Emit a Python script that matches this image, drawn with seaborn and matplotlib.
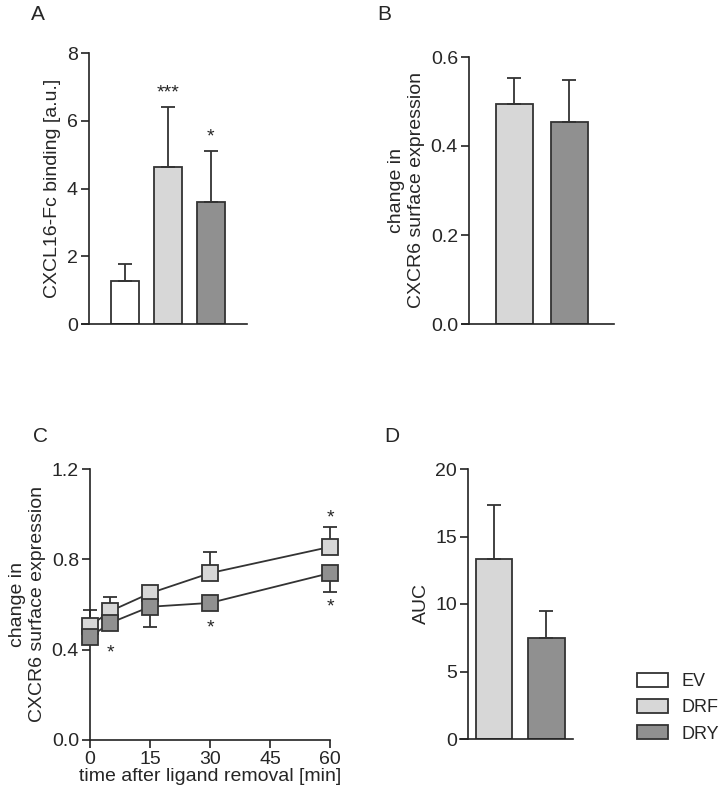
import numpy as np
import pandas as pd
import seaborn as sns
import matplotlib.pyplot as plt
from matplotlib.patches import Patch

sns.set_style('ticks')
plt.rcParams['font.family'] = ['Liberation Sans', 'DejaVu Sans']
plt.rcParams['font.size'] = 13

# data
groups = ['EV', 'DRF', 'DRY']
colors = {'EV': '#ffffff', 'DRF': '#d7d7d7', 'DRY': '#909090'}
edge = '#333333'

binding_mean = [1.28, 4.63, 3.6]
binding_err = [0.5, 1.78, 1.51]
binding_stars = ['', '***', '*']

surface_groups = ['DRF', 'DRY']
surface_mean = [0.494, 0.453]
surface_err = [0.059, 0.095]

time_min = [0, 5, 15, 30, 60]
drf_time = [0.505, 0.57, 0.65, 0.739, 0.855]
drf_time_err = [0.071, 0.063, 0.02, 0.093, 0.088]
dry_time = [0.456, 0.518, 0.59, 0.607, 0.739]
dry_time_err = [0.02, 0.02, 0.09, 0.02, 0.084]
dry_time_stars = [(5, 0.385), (30, 0.495), (60, 0.59)]
drf_time_stars = [(60, 0.985)]

auc_mean = [13.3, 7.5]
auc_err = [4.0, 1.95]

fig = plt.figure(figsize=(7.24, 7.92), dpi=100)
W, H = 724, 792


def add_ax(x0, y_top, x1, y_bot):
    return fig.add_axes([x0 / W, 1 - y_bot / H, (x1 - x0) / W, (y_bot - y_top) / H])


def style_ax(ax, spine_x=None):
    sns.despine(ax=ax)
    for s in ['left', 'bottom']:
        ax.spines[s].set_linewidth(1.2)
        ax.spines[s].set_color('#222222')
    if spine_x is not None:
        ax.spines['left'].set_position(('axes', spine_x))
    ax.tick_params(length=6, width=1.2, color='#222222', labelsize=14, pad=2)
    ax.set_xticks([])


def bar_panel(ax, cats, means, errs, width):
    df = pd.DataFrame({'group': cats, 'value': means})
    sns.barplot(data=df, x='group', y='value', hue='group', order=cats,
                palette=[colors[c] for c in cats], edgecolor=edge, linewidth=1.3,
                width=width, errorbar=None, legend=False, ax=ax)
    ax.errorbar(range(len(cats)), means, yerr=[np.zeros(len(cats)), errs],
                fmt='none', ecolor=edge, elinewidth=1.3, capsize=5, capthick=1.3)
    ax.set_xlabel('')


# Panel A
axA = add_ax(82, 53, 247, 324)
bar_panel(axA, groups, binding_mean, binding_err, 0.65)
axA.set_xlim(-0.997, 2.84)
axA.set_ylim(0, 8)
axA.set_yticks([0, 2, 4, 6, 8])
axA.set_ylabel('CXCL16-Fc binding [a.u.]', fontsize=14, labelpad=4)
for i, s in enumerate(binding_stars):
    if s:
        axA.text(i, binding_mean[i] + binding_err[i] + 0.15, s, ha='center', va='bottom', fontsize=14)
style_ax(axA, 7 / 165)

# Panel B
axB = add_ax(462, 57, 614, 324)
bar_panel(axB, surface_groups, surface_mean, surface_err, 0.67)
axB.set_xlim(-0.955, 1.81)
axB.set_ylim(0, 0.6)
axB.set_yticks([0, 0.2, 0.4, 0.6])
axB.set_yticklabels(['0.0', '0.2', '0.4', '0.6'])
axB.set_ylabel('change in\nCXCR6 surface expression', fontsize=14, labelpad=4)
style_ax(axB, 7 / 152)

# Panel C
axC = add_ax(90, 469, 330, 740)
df_time = pd.DataFrame({
    'time': time_min * 2,
    'value': drf_time + dry_time,
    'group': ['DRF'] * len(time_min) + ['DRY'] * len(time_min),
})
axC.errorbar(time_min, drf_time, yerr=[np.zeros(5), drf_time_err], fmt='none',
             ecolor=edge, elinewidth=1.3, capsize=5, capthick=1.3, clip_on=False)
axC.errorbar(time_min, dry_time, yerr=[dry_time_err, np.zeros(5)], fmt='none',
             ecolor=edge, elinewidth=1.3, capsize=5, capthick=1.3, clip_on=False)
sns.lineplot(data=df_time, x='time', y='value', hue='group', hue_order=['DRF', 'DRY'],
             palette=[edge, edge], marker='s', markersize=12, linewidth=1.3,
             legend=False, ax=axC, clip_on=False, zorder=3)
for line, g in zip(axC.lines[-2:], ['DRF', 'DRY']):
    line.set_markerfacecolor(colors[g])
    line.set_markeredgecolor(edge)
    line.set_markeredgewidth(1.3)
    line.set_clip_on(False)
for x, y in dry_time_stars + drf_time_stars:
    axC.text(x, y, '*', ha='center', va='center', fontsize=14)
axC.set_xlim(0, 60)
axC.set_ylim(0, 1.2)
axC.set_yticks([0, 0.4, 0.8, 1.2])
axC.set_yticklabels(['0.0', '0.4', '0.8', '1.2'])
axC.set_ylabel('change in\nCXCR6 surface expression', fontsize=14, labelpad=4)
style_ax(axC)
axC.set_xticks([0, 15, 30, 45, 60])
axC.set_xlabel('time after ligand removal [min]', fontsize=14, labelpad=0)

# Panel D
axD = add_ax(460, 469, 573, 739)
bar_panel(axD, surface_groups, auc_mean, auc_err, 0.69)
axD.set_xlim(-0.648, 1.505)
axD.set_ylim(0, 20)
axD.set_yticks([0, 5, 10, 15, 20])
axD.set_ylabel('AUC', fontsize=14, labelpad=4)
style_ax(axD, 8 / 113)

# panel letters
for lab, x, y in [('A', 38, 14), ('B', 384, 14), ('C', 40, 436), ('D', 392, 436)]:
    fig.text(x / W, 1 - y / H, lab, fontsize=15, ha='center', va='center')

# legend
handles = [Patch(facecolor=colors[g], edgecolor=edge, linewidth=1.3, label=g) for g in groups]
fig.legend(handles=handles, loc='upper left', bbox_to_anchor=(637 / W, 1 - 673 / H),
           frameon=False, fontsize=13, handlelength=1.7, handleheight=0.8,
           labelspacing=0.5, handletextpad=0.75, borderaxespad=0, borderpad=0)

fig.savefig('out.png', dpi=100)
